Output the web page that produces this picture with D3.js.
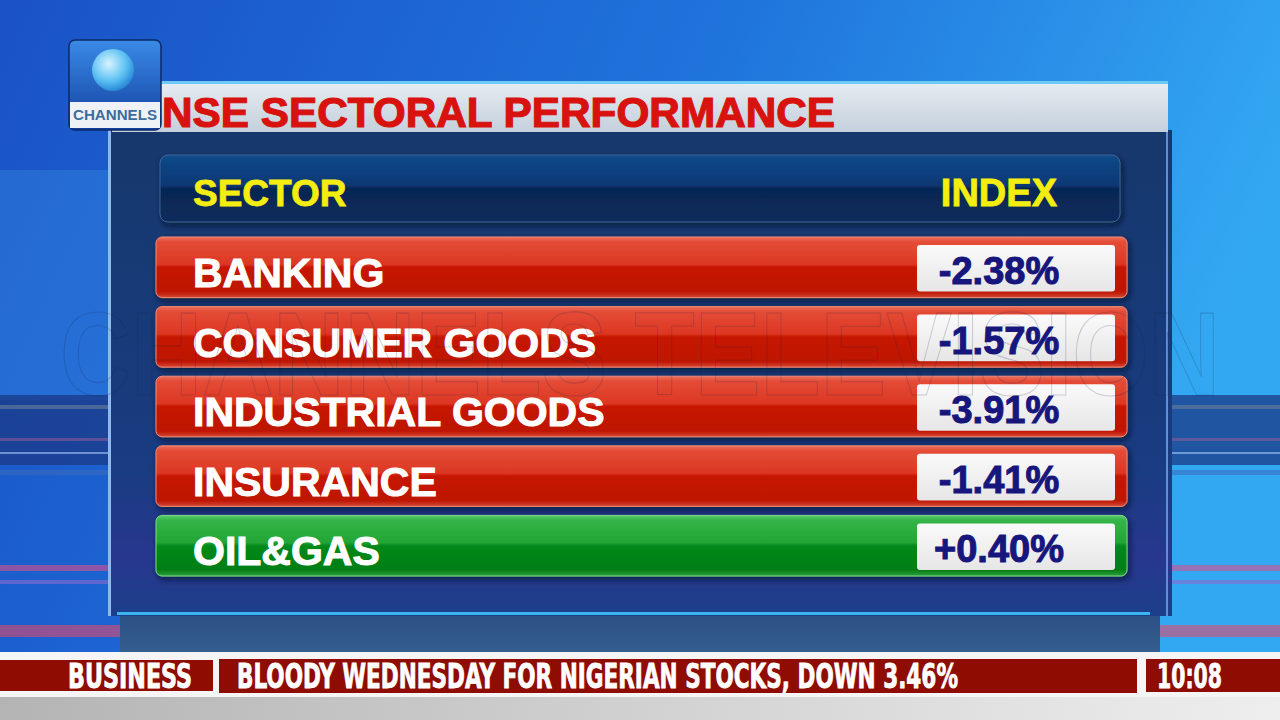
<!DOCTYPE html>
<html>
<head>
<meta charset="utf-8">
<style>
  html, body { margin: 0; padding: 0; background: #1a56c8; overflow: hidden; }
  svg { display: block; }
</style>
<script src="https://cdn.jsdelivr.net/npm/d3@7"></script>
</head>
<body>
<div id="chart-container"></div>
<script>
// NSE sectoral performance board
const sectors = ["BANKING", "CONSUMER GOODS", "INDUSTRIAL GOODS", "INSURANCE", "OIL&GAS"];
const indexChange = [-2.38, -1.57, -3.91, -1.41, 0.40];
const columnHeads = ["SECTOR", "INDEX"];
const titleText = "NSE SECTORAL PERFORMANCE";
const tickerTag = "BUSINESS";
const headline = "BLOODY WEDNESDAY FOR NIGERIAN STOCKS, DOWN 3.46%";
const clock = "10:08";

const width = 1280, height = 720;
const rows = sectors.map((s, i) => ({sector: s, value: indexChange[i]}));

const fmt = d3.formatLocale({decimal: ".", thousands: ",", grouping: [3], currency: ["", ""], minus: "-"})
  .format("+.2f");

const svg = d3.select("#chart-container")
  .append("svg")
  .attr("width", width)
  .attr("height", height)
  .attr("viewBox", `0 0 ${width} ${height}`);

const defs = svg.append("defs");

function grad(id, stops, x2 = 0, y2 = 1) {
  const g = defs.append("linearGradient").attr("id", id)
    .attr("x1", 0).attr("y1", 0).attr("x2", x2).attr("y2", y2);
  stops.forEach(([o, c]) => g.append("stop").attr("offset", o).attr("stop-color", c));
}

grad("bg", [[0, "#1a52c6"], [0.55, "#1f74dc"], [1, "#33a8f2"]], 1, 0.25);
grad("titleBar", [[0, "#e6ecf2"], [1, "#c4d0dc"]]);
grad("panel", [[0, "#16386c"], [0.7, "#193c82"], [0.88, "#27378e"], [1, "#1c3f8a"]]);
grad("slab", [[0, "#2b4f82"], [1, "#35608f"]]);
grad("head", [[0, "#124a8a"], [0.45, "#0b3874"], [0.5, "#062754"], [1, "#092b5c"]]);
grad("red", [[0, "#ea705c"], [0.08, "#e44c37"], [0.45, "#dc3723"], [0.5, "#c61600"], [0.9, "#be1200"], [1, "#d44834"]]);
grad("green", [[0, "#59c96a"], [0.08, "#35b548"], [0.45, "#22a535"], [0.5, "#05891a"], [0.9, "#047e15"], [1, "#2ba03e"]]);
grad("cell", [[0, "#fafafa"], [1, "#e6e6e6"]]);
grad("logoTop", [[0, "#3a8ae6"], [1, "#123e9e"]]);
grad("floor", [[0, "#b4b4b4"], [1, "#eeeeee"]], 1, 0);

const globe = defs.append("radialGradient").attr("id", "globe")
  .attr("cx", 0.4).attr("cy", 0.35).attr("r", 0.7);
globe.append("stop").attr("offset", 0).attr("stop-color", "#d8f4ff");
globe.append("stop").attr("offset", 0.6).attr("stop-color", "#5cc0f2");
globe.append("stop").attr("offset", 1).attr("stop-color", "#1f7fd0");

const shadow = defs.append("filter").attr("id", "shadow")
  .attr("x", "-5%").attr("y", "-20%").attr("width", "110%").attr("height", "150%");
shadow.append("feDropShadow").attr("dx", 2).attr("dy", 3).attr("stdDeviation", 3)
  .attr("flood-color", "#000820").attr("flood-opacity", 0.7);

// background studio
svg.append("rect").attr("width", width).attr("height", height).attr("fill", "url(#bg)");
svg.append("rect").attr("x", 0).attr("y", 170).attr("width", 110).attr("height", 230)
  .attr("fill", "#3a8ee6").attr("opacity", 0.35);
svg.append("rect").attr("x", 0).attr("y", 395).attr("width", width).attr("height", 70)
  .attr("fill", "#1b3a86").attr("opacity", 0.75);
[[405, "#6d7f9a", 4], [438, "#8a5a9a", 3], [452, "#a9c8ff", 2], [470, "#3b6bc0", 5],
 [565, "#d9508c", 6], [580, "#8a6ad0", 4], [625, "#e04a6a", 12]].forEach(([y, c, h]) => {
  svg.append("rect").attr("x", 0).attr("y", y).attr("width", width).attr("height", h)
    .attr("fill", c).attr("opacity", 0.6);
});

// lower slab under panel
svg.append("rect").attr("x", 120).attr("y", 612).attr("width", 1040).attr("height", 45)
  .attr("fill", "url(#slab)");

// panel
svg.append("rect").attr("x", 108).attr("y", 130).attr("width", 1064).attr("height", 486)
  .attr("fill", "url(#panel)");
svg.append("rect").attr("x", 108).attr("y", 130).attr("width", 3).attr("height", 486)
  .attr("fill", "#8fb8ee");
svg.append("rect").attr("x", 1166).attr("y", 130).attr("width", 2).attr("height", 486)
  .attr("fill", "#5e8fd8");
svg.append("rect").attr("x", 117).attr("y", 612).attr("width", 1033).attr("height", 3)
  .attr("fill", "#3cb4f2");

// title bar
svg.append("rect").attr("x", 112).attr("y", 82).attr("width", 1056).attr("height", 50)
  .attr("fill", "url(#titleBar)");
svg.append("rect").attr("x", 112).attr("y", 81).attr("width", 1056).attr("height", 3)
  .attr("fill", "#6ccaf6");
svg.append("text")
  .attr("x", 162).attr("y", 127)
  .attr("font-family", "'Liberation Sans', Arial, sans-serif")
  .attr("font-weight", "bold").attr("font-size", 42)
  .attr("fill", "#d8120e").attr("stroke", "#d8120e").attr("stroke-width", 1.2)
  .attr("textLength", 673).attr("lengthAdjust", "spacingAndGlyphs")
  .text(titleText);

// logo
const logo = svg.append("g");
logo.append("rect").attr("x", 69).attr("y", 40).attr("width", 92).attr("height", 90).attr("rx", 6)
  .attr("fill", "url(#logoTop)").attr("stroke", "#0c2a66").attr("stroke-width", 1.5);
logo.append("circle").attr("cx", 113).attr("cy", 70).attr("r", 21).attr("fill", "url(#globe)");
logo.append("rect").attr("x", 70).attr("y", 102).attr("width", 90).attr("height", 26)
  .attr("fill", "#eef2f6");
logo.append("text").attr("x", 115).attr("y", 120).attr("text-anchor", "middle")
  .attr("font-family", "'Liberation Sans', Arial, sans-serif").attr("font-weight", "bold")
  .attr("font-size", 14).attr("fill", "#3a6c9c")
  .attr("textLength", 84).attr("lengthAdjust", "spacingAndGlyphs")
  .text("CHANNELS");

// header row
const fontMain = "'Liberation Sans', Arial, Helvetica, sans-serif";
svg.append("rect").attr("x", 160).attr("y", 155).attr("width", 960).attr("height", 67).attr("rx", 8)
  .attr("fill", "url(#head)").attr("stroke", "#3d6396").attr("stroke-width", 1)
  .attr("filter", "url(#shadow)");
svg.append("text").attr("x", 193).attr("y", 206)
  .attr("font-family", fontMain).attr("font-weight", "bold").attr("font-size", 37)
  .attr("fill", "#f4ee10").attr("stroke", "#f4ee10").attr("stroke-width", 0.8)
  .text(columnHeads[0]);
svg.append("text").attr("x", 1057).attr("y", 206).attr("text-anchor", "end")
  .attr("font-family", fontMain).attr("font-weight", "bold").attr("font-size", 38)
  .attr("fill", "#f4ee10").attr("stroke", "#f4ee10").attr("stroke-width", 0.8)
  .text(columnHeads[1]);

// rows
const y = d3.scaleBand()
  .domain(sectors)
  .range([237, 576])
  .paddingInner(0.13)
  .paddingOuter(0);

const rowG = svg.append("g").selectAll("g")
  .data(rows)
  .join("g")
    .attr("transform", d => `translate(0,${y(d.sector)})`);

rowG.append("rect")
  .attr("x", 156).attr("y", 0)
  .attr("width", 971).attr("height", y.bandwidth())
  .attr("rx", 6)
  .attr("fill", d => d.value < 0 ? "url(#red)" : "url(#green)")
  .attr("stroke", d => d.value < 0 ? "#f08a78" : "#7fd88a")
  .attr("stroke-width", 1)
  .attr("filter", "url(#shadow)");

rowG.append("rect")
  .attr("x", 917).attr("y", 8)
  .attr("width", 198).attr("height", y.bandwidth() - 14)
  .attr("rx", 3)
  .attr("fill", "url(#cell)");

rowG.append("text")
  .attr("x", 193).attr("y", 50)
  .attr("font-family", fontMain).attr("font-weight", "bold").attr("font-size", 41)
  .attr("fill", "#ffffff").attr("stroke", "#ffffff").attr("stroke-width", 1)
  .text(d => d.sector);

rowG.append("text")
  .attr("x", 999).attr("y", 47)
  .attr("text-anchor", "middle")
  .attr("font-family", fontMain).attr("font-weight", "bold").attr("font-size", 38)
  .attr("fill", "#16167c").attr("stroke", "#16167c").attr("stroke-width", 1)
  .text(d => fmt(d.value) + "%");

// watermark
svg.append("text")
  .attr("x", 60).attr("y", 395)
  .attr("font-family", fontMain).attr("font-weight", "bold").attr("font-size", 118)
  .attr("fill", "none").attr("stroke", "#1a2450").attr("stroke-opacity", 0.2).attr("stroke-width", 1.2)
  .attr("textLength", 1160).attr("lengthAdjust", "spacingAndGlyphs")
  .text("CHANNELS TELEVISION");

// ticker
const fontNarrow = "'Liberation Sans Narrow', 'DejaVu Sans Condensed', 'Arial Narrow', sans-serif";
svg.append("rect").attr("x", 0).attr("y", 652).attr("width", width).attr("height", 46).attr("fill", "#f5f5f5");
svg.append("rect").attr("x", 0).attr("y", 697).attr("width", width).attr("height", 23).attr("fill", "url(#floor)");
svg.append("rect").attr("x", 0).attr("y", 660).attr("width", 213).attr("height", 31).attr("fill", "#8e0c02");
svg.append("rect").attr("x", 219).attr("y", 659).attr("width", 918).attr("height", 34).attr("fill", "#8e0c02");
svg.append("rect").attr("x", 1146).attr("y", 659).attr("width", 134).attr("height", 33).attr("fill", "#8e0c02");

const tick = (x, txt, len) => svg.append("text")
  .attr("x", x).attr("y", 688)
  .attr("font-family", fontNarrow).attr("font-weight", "bold").attr("font-size", 33)
  .attr("fill", "#ffffff").attr("stroke", "#ffffff").attr("stroke-width", 0.8)
  .attr("textLength", len).attr("lengthAdjust", "spacingAndGlyphs")
  .text(txt);
tick(68, tickerTag, 124);
tick(237, headline, 721);
tick(1157, clock, 65);
</script>
</body>
</html>
